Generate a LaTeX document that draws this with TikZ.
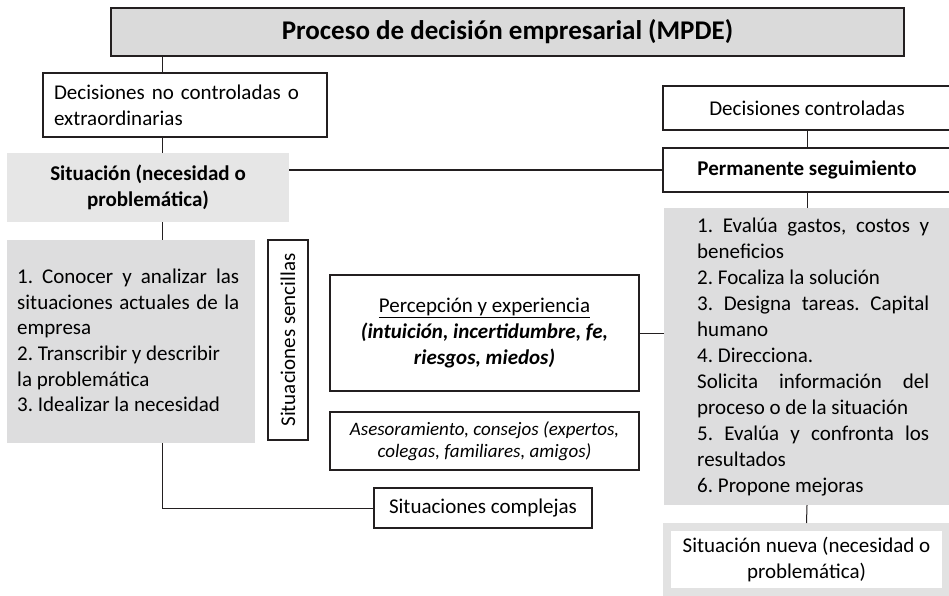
\documentclass[tikz,border=0pt]{standalone}
\usepackage{fontspec}
\setmainfont{Carlito}
\frenchspacing
\definecolor{titlegray}{RGB}{218,218,218}
\definecolor{sitgray}{RGB}{230,230,230}
\definecolor{boxgray}{RGB}{221,221,222}
\definecolor{nuevagray}{RGB}{226,226,226}
\definecolor{linec}{RGB}{35,31,32}
\newcommand\bdyfont{\fontsize{21}{25.6}\selectfont}
\newcommand\rbdyfont{\fontsize{21}{26}\selectfont}
\newcommand\ttlfont{\fontsize{27}{32}\selectfont\bfseries}
\newcommand\asfont{\fontsize{19}{22.5}\selectfont}
\newcommand\jl[2]{\makebox[#1][s]{#2}}
\begin{document}
\begin{tikzpicture}[x=1pt,y=-1pt,
  box/.style={draw=linec, line width=1.2pt, fill=white, inner sep=0pt, font=\bdyfont},
  graybox/.style={fill=#1, inner sep=0pt},
  conn/.style={draw=linec, line width=1pt}]
\useasboundingbox (0,0) rectangle (949,596);
% nodes
\node[box, fill=titlegray, minimum width=793, minimum height=48, font=\ttlfont] (title) at (507.5,32) {Proceso de decisión empresarial (MPDE)};
\node[box, minimum width=284, minimum height=64, align=left, text width=262] (ndc) at (185,105) {Decisiones no controladas o\\extraordinarias};
\node[box, minimum width=288, minimum height=44] (dc) at (807,108) {Decisiones controladas};
\node[graybox=sitgray, minimum width=282, minimum height=69, font=\bdyfont\bfseries, align=center] (sit) at (148,187.5) {Situación (necesidad o\\problemática)};
\node[box, minimum width=288, minimum height=44, font=\bdyfont\bfseries] (perm) at (807,170) {Permanente seguimiento};
\node[graybox=boxgray, minimum width=248, minimum height=203] (lgray) at (131,341.5) {};
\node[anchor=north west, inner sep=0pt, align=left, font=\bdyfont] (ltext) at (17,269) {\jl{222pt}{1. Conocer y analizar las}\\ \jl{222pt}{situaciones actuales de la}\\ empresa\\ 2. Transcribir y describir\\ la problemática\\ 3. Idealizar la necesidad};
\node[box, minimum width=200, minimum height=40, rotate=90] (senc) at (288,340) {Situaciones sencillas};
\node[box, minimum width=309, minimum height=116, align=center] (perc) at (484.5,333) {\underline{Percepción y experiencia}\\ \textbf{\textit{(intuición, incertidumbre, fe,}}\\ \textbf{\textit{riesgos, miedos)}}};
\node[box, minimum width=309, minimum height=58, align=center, font=\asfont\itshape] (ases) at (484.5,441) {Asesoramiento, consejos (expertos,\\colegas, familiares, amigos)};
\node[box, minimum width=218, minimum height=40] (comp) at (483,508) {Situaciones complejas};
\node[graybox=boxgray, minimum width=286, minimum height=297] (rgray) at (807,356.5) {};
\node[anchor=north west, inner sep=0pt, align=left, font=\rbdyfont] (rtext) at (697,218) {\jl{232pt}{1. Evalúa gastos, costos y}\\ beneficios\\ 2. Focaliza la solución\\ \jl{232pt}{3. Designa tareas. Capital}\\ humano\\ 4. Direcciona.\\ \jl{232pt}{Solicita información del}\\ proceso o de la situación\\ \jl{232pt}{5. Evalúa y confronta los}\\ resultados\\ 6. Propone mejoras};
\node[draw=nuevagray, line width=8pt, fill=white, minimum width=279, minimum height=65, inner sep=0pt, align=center, font=\bdyfont] (nueva) at (806.5,559.5) {Situación nueva (necesidad o\\problemática)};
% connectors
\coordinate (lx) at (162.5,0);
\draw[conn] (title.south -| lx) -- (ndc.north -| lx);
\draw[conn] (ndc.south -| lx) -- (sit.north -| lx);
\draw[conn] (sit.south -| lx) -- (lgray.north -| lx);
\draw[conn] (lgray.south -| lx) |- (comp.west);
\draw[conn] (sit.east |- perm.west) -- (perm.west);
\draw[conn] (dc.south) -- (perm.north);
\draw[conn] (perm.south) -- (rgray.north);
\draw[conn] (rgray.south) -- (nueva.north);
\draw[conn] (perc.east) -- (perc.east -| rgray.west);
\end{tikzpicture}
\end{document}
